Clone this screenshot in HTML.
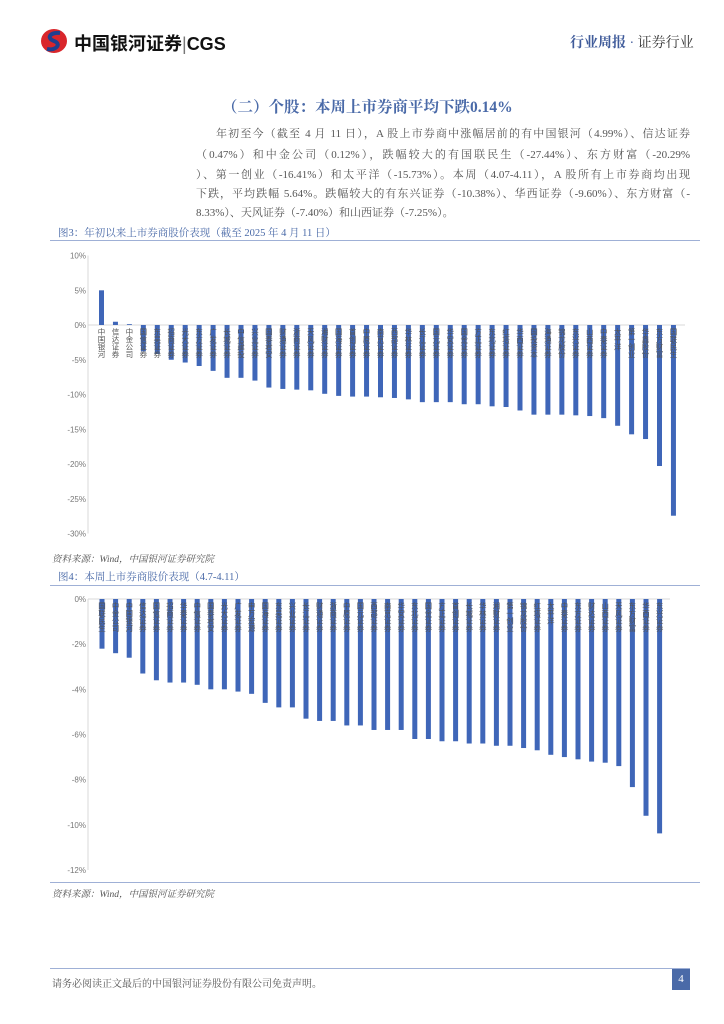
<!DOCTYPE html>
<html><head><meta charset="utf-8">
<style>
body{margin:0;background:#fff;}
#pg{position:relative;width:724px;height:1024px;overflow:hidden;font-family:"Liberation Serif","Noto Serif CJK SC",serif;color:#333;}
.abs{position:absolute;white-space:nowrap;}
.ln{position:absolute;left:196px;width:494px;margin:0;font-size:11px;line-height:14px;color:#555;text-align:justify;text-align-last:justify;white-space:nowrap;}
</style></head><body>
<div id="pg">
  <svg class="abs" style="left:40px;top:28px" width="30" height="26">
    <ellipse cx="14" cy="13" rx="13" ry="12" fill="#d9262b"/>
    <path d="M20 5 C10 4 6 10 14 13 C22 16 16 23 7 21" stroke="#1f3f8f" stroke-width="4" fill="none"/>
  </svg>
  <div class="abs" style="left:74px;top:30px;font:bold 18px 'Liberation Sans','Noto Sans CJK SC',sans-serif;color:#111">中国银河证券<span style="font-weight:normal;color:#777">|</span>CGS</div>
  <div class="abs" style="left:570px;top:32px;font-size:14px;color:#3f5b9a"><b>行业周报</b> · <span style="color:#333">证券行业</span></div>

  <div class="abs" style="left:222px;top:95px;font-size:15.5px;font-weight:bold;color:#4a6aa8">（二）个股：本周上市券商平均下跌0.14%</div>

  <div>
  <div class="ln" style="top:127px;left:216px;width:474px">年初至今（截至 4 月 11 日），A 股上市券商中涨幅居前的有中国银河（4.99%）、信达证券</div>
  <div class="ln" style="top:148px">（0.47%）和中金公司（0.12%），跌幅较大的有国联民生（-27.44%）、东方财富（-20.29%</div>
  <div class="ln" style="top:168px">）、第一创业（-16.41%）和太平洋（-15.73%）。本周（4.07-4.11），A 股所有上市券商均出现</div>
  <div class="ln" style="top:187px">下跌，平均跌幅 5.64%。跌幅较大的有东兴证券（-10.38%）、华西证券（-9.60%）、东方财富（-</div>
  <div class="ln" style="top:206px;text-align-last:left">8.33%）、天风证券（-7.40%）和山西证券（-7.25%）。</div>
  </div>

  <div class="abs" style="left:58px;top:225px;font-size:10.5px;color:#4a6aa8">图3：年初以来上市券商股价表现（截至 2025 年 4 月 11 日）</div>
  <div class="abs" style="left:50px;top:240px;width:650px;height:1px;background:#9fb0d6"></div>
  <svg id="c1" class="abs" style="left:0;top:0" width="724" height="1024"></svg>
  <div class="abs" style="left:52px;top:551px;font-size:9.5px;color:#555;font-style:italic">资料来源：Wind，中国银河证券研究院</div>

  <div class="abs" style="left:58px;top:569px;font-size:10.5px;color:#4a6aa8">图4：本周上市券商股价表现（4.7-4.11）</div>
  <div class="abs" style="left:50px;top:585px;width:650px;height:1px;background:#9fb0d6"></div>
  <div class="abs" style="left:50px;top:882px;width:650px;height:1px;background:#9fb0d6"></div>
  <div class="abs" style="left:52px;top:886px;font-size:9.5px;color:#555;font-style:italic">资料来源：Wind，中国银河证券研究院</div>

  <div class="abs" style="left:50px;top:968px;width:640px;height:1px;background:#9fb0d6"></div>
  <div class="abs" style="left:52px;top:975px;font-size:10px;color:#555">请务必阅读正文最后的中国银河证券股份有限公司免责声明。</div>
  <div class="abs" style="left:672px;top:969px;width:18px;height:21px;background:#4a6aa8;color:#fff;font-size:11px;text-align:center;line-height:21px">4</div>
</div>
<script>
const ytdNames=["中国银河","信达证券","中金公司","国信证券","东吴证券","招商证券","光大证券","东方证券","广发证券","长城证券","中信建投","兴业证券","国泰君安","财通证券","浙商证券","天风证券","湘财证券","国海证券","首创证券","中原证券","南京证券","西部证券","华林证券","长江证券","国元证券","华安证券","国金证券","方正证券","东北证券","红塔证券","华西证券","国投资本","海通证券","锦龙股份","东兴证券","山西证券","中泰证券","太平洋","第一创业","华鑫股份","东方财富","国联民生"];
const ytdValues=[4.99,0.47,0.12,-3.8,-4.1,-5.0,-5.4,-5.9,-6.6,-7.6,-7.6,-8.0,-9.0,-9.2,-9.3,-9.4,-9.9,-10.2,-10.3,-10.3,-10.4,-10.5,-10.7,-11.1,-11.1,-11.1,-11.4,-11.4,-11.7,-11.8,-12.3,-12.9,-12.9,-12.9,-13.0,-13.1,-13.4,-14.5,-15.73,-16.41,-20.29,-27.44];
const ytdTicks=[10,5,0,-5,-10,-15,-20,-25,-30];
const wkNames=["国联民生","中金公司","中国银河","信达证券","国信证券","招商证券","华泰证券","中信证券","国泰君安","光大证券","广发证券","申万宏源","国海证券","东吴证券","兴业证券","长江证券","财通证券","浙商证券","中原证券","国元证券","西部证券","南京证券","华安证券","东北证券","国金证券","方正证券","首创证券","长城证券","华林证券","湘财证券","第一创业","锦龙股份","红塔证券","太平洋","中泰证券","东方证券","财达证券","山西证券","天风证券","东方财富","华西证券","东兴证券"];
const wkValues=[-2.2,-2.4,-2.6,-3.3,-3.6,-3.7,-3.7,-3.8,-4.0,-4.0,-4.1,-4.2,-4.6,-4.8,-4.8,-5.3,-5.4,-5.4,-5.6,-5.6,-5.8,-5.8,-5.8,-6.2,-6.2,-6.3,-6.3,-6.4,-6.4,-6.5,-6.5,-6.6,-6.7,-6.9,-7.0,-7.1,-7.2,-7.25,-7.4,-8.33,-9.6,-10.38];
const wkTicks=[0,-2,-4,-6,-8,-10,-12];
const NS="http://www.w3.org/2000/svg";
function mk(svg,tag,attrs){const e=document.createElementNS(NS,tag);for(const k in attrs)e.setAttribute(k,attrs[k]);svg.appendChild(e);return e;}
function drawChart(svg,names,vals,ticks,o){
  const y=v=>o.y0-v*o.ppu;
  const x=i=>o.x0+i*o.step;
  const ax=mk(svg,'line',{x1:o.axisX,x2:o.axisX,y1:y(ticks[0]),y2:y(ticks[ticks.length-1]),stroke:'#d9d9d9'});
  
  ticks.forEach(t=>{
    const tx=mk(svg,'text',{x:o.axisX-2,y:y(t)+3,'text-anchor':'end','font-size':8,fill:'#777','font-family':'Liberation Sans,sans-serif'});
    tx.textContent=t+'%';
    
    
  });
  const zl=mk(svg,'line',{x1:o.axisX,x2:o.xEnd,y1:y(0),y2:y(0),stroke:'#d9d9d9'});
  
  vals.forEach((v,i)=>{
    const top=Math.min(y(v),y(0)),h=Math.abs(y(v)-y(0));
    const r=mk(svg,'rect',{x:x(i)-2.5,y:top,width:5,height:h,fill:'#3f66b8'});
    
    
    const t=mk(svg,'text',{x:x(i),y:y(0)+3,'font-size':7.5,fill:'#555','writing-mode':'tb','font-family':'Noto Sans CJK SC,sans-serif'});
    t.textContent=names[i];
    
    
  });
}
drawChart(document.getElementById('c1'),ytdNames,ytdValues,ytdTicks,{y0:325,ppu:6.95,x0:101.5,step:13.95,axisX:88,xEnd:685});
drawChart(document.getElementById('c1'),wkNames,wkValues,wkTicks,{y0:599,ppu:22.58,x0:102,step:13.6,axisX:88,xEnd:670});
</script>
</body></html>
